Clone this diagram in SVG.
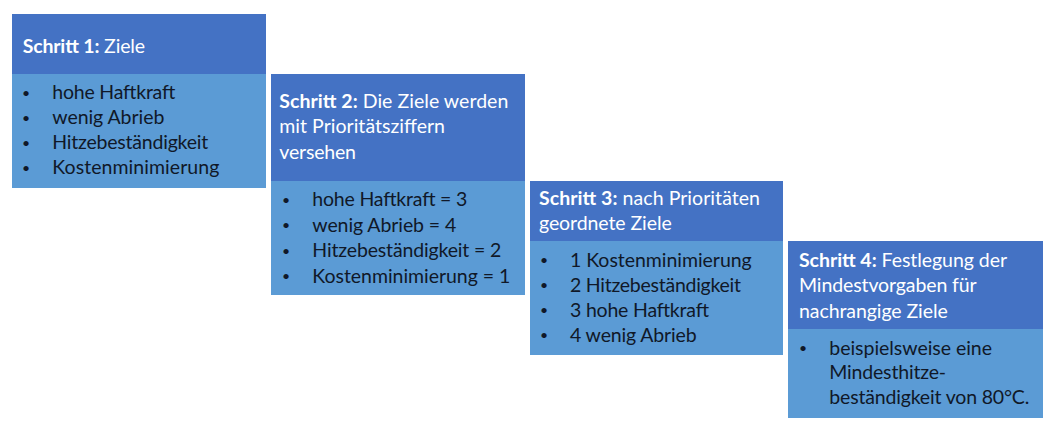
<svg xmlns="http://www.w3.org/2000/svg" width="1060" height="435" viewBox="0 0 1060 435">
<style>
.hd{fill:#4472C4}
.bd{fill:#5B9BD5}
text{font-family:Lato,"Noto Sans",sans-serif;font-size:19.5px}
.ht{fill:#ffffff}
.b{font-weight:bold}
.bt{fill:#101828}
.bu{font-size:14px}
</style>
<rect width="1060" height="435" fill="#ffffff"/>
<g id="connectors"/>
<g id="step1">
<rect class="hd" x="12" y="14" width="254" height="60"/>
<rect class="bd" x="12" y="74" width="254" height="114"/>
<text class="ht" x="22.7" y="52.5" textLength="122.3"><tspan class="b">Schritt 1:</tspan> Ziele</text>
<text class="bt bu" x="22" y="97.5">•</text>
<text class="bt bu" x="22" y="122.5">•</text>
<text class="bt bu" x="22" y="147.5">•</text>
<text class="bt bu" x="22" y="172.5">•</text>
<text class="bt" x="52.3" y="99" textLength="123">hohe Haftkraft</text>
<text class="bt" x="52.3" y="124" textLength="112">wenig Abrieb</text>
<text class="bt" x="52.3" y="149" textLength="156">Hitzebeständigkeit</text>
<text class="bt" x="52.3" y="174" textLength="167">Kostenminimierung</text>
</g>
<g id="step2">
<rect class="hd" x="271" y="74" width="254" height="107"/>
<rect class="bd" x="271" y="181" width="254" height="114"/>
<text class="ht" x="279.3" y="107.5" textLength="229"><tspan class="b">Schritt 2:</tspan> Die Ziele werden</text>
<text class="ht" x="279.3" y="133" textLength="165.7">mit Prioritätsziffern</text>
<text class="ht" x="279.3" y="158.5" textLength="76.7">versehen</text>
<text class="bt bu" x="282" y="204.5">•</text>
<text class="bt bu" x="282" y="230">•</text>
<text class="bt bu" x="282" y="255.5">•</text>
<text class="bt bu" x="282" y="281">•</text>
<text class="bt" x="312.3" y="206" textLength="155">hohe Haftkraft = 3</text>
<text class="bt" x="312.3" y="231.5" textLength="144">wenig Abrieb = 4</text>
<text class="bt" x="312.3" y="257" textLength="189">Hitzebeständigkeit  = 2</text>
<text class="bt" x="312.3" y="282.5" textLength="198">Kostenminimierung = 1</text>
</g>
<g id="step3">
<rect class="hd" x="530" y="181" width="253" height="60"/>
<rect class="bd" x="530" y="241" width="253" height="114"/>
<text class="ht" x="539" y="204.5" textLength="221"><tspan class="b">Schritt 3:</tspan> nach Prioritäten</text>
<text class="ht" x="539" y="230" textLength="132.7">geordnete Ziele</text>
<text class="bt bu" x="540" y="265">•</text>
<text class="bt bu" x="540" y="290">•</text>
<text class="bt bu" x="540" y="315">•</text>
<text class="bt bu" x="540" y="340">•</text>
<text class="bt" x="570" y="266.5" textLength="181.7">1 Kostenminimierung</text>
<text class="bt" x="570" y="291.5" textLength="171">2 Hitzebeständigkeit</text>
<text class="bt" x="570" y="316.5" textLength="139">3 hohe Haftkraft</text>
<text class="bt" x="570" y="341.5" textLength="126.7">4 wenig Abrieb</text>
</g>
<g id="step4">
<rect class="hd" x="788" y="241" width="255" height="88"/>
<rect class="bd" x="788" y="329" width="255" height="89"/>
<text class="ht" x="799" y="266.5" textLength="208"><tspan class="b">Schritt 4:</tspan> Festlegung der</text>
<text class="ht" x="799" y="292" textLength="177.7">Mindestvorgaben für</text>
<text class="ht" x="799" y="317.5" textLength="148.7">nachrangige Ziele</text>
<text class="bt bu" x="799" y="353">•</text>
<text class="bt" x="829.3" y="354.5" textLength="162.7">beispielsweise eine</text>
<text class="bt" x="829.3" y="379" textLength="116.7">Mindesthitze-</text>
<text class="bt" x="829.3" y="403.5" textLength="200">beständigkeit von 80°C.</text>
</g>
</svg>
